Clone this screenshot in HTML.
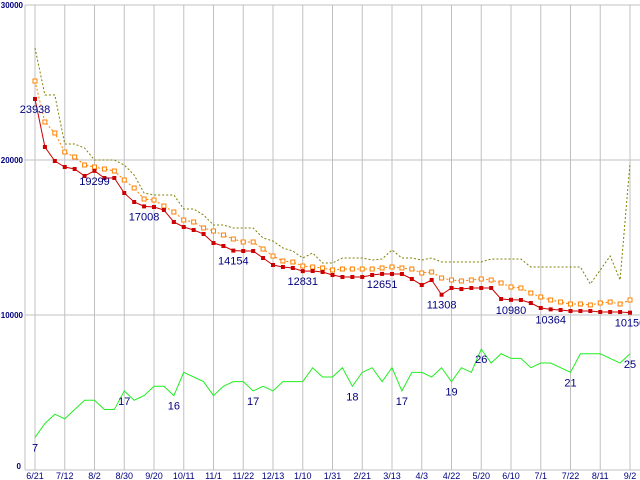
<!DOCTYPE html>
<html><head><meta charset="utf-8"><style>
body{margin:0;background:#fff;width:640px;height:480px;overflow:hidden}
svg{display:block;font-family:"Liberation Sans",sans-serif}
</style></head><body>
<svg id="chart" width="640" height="480" viewBox="0 0 640 480"></svg>
<script>
const xLabels=["6/21","7/12","8/2","8/30","9/20","10/11","11/1","11/22","12/13","1/10","1/31","2/21","3/13","4/3","4/22","5/20","6/10","7/1","7/22","8/11","9/2"];
const yTicks=[0,10000,20000,30000];
const redValues=[23938,20839,19935,19548,19419,18968,19299,18839,18839,17871,17290,17008,16968,16774,16000,15677,15484,15226,14645,14452,14154,14129,14129,13677,13226,13097,13032,12831,12839,12774,12581,12452,12452,12452,12581,12651,12645,12645,12323,11935,12258,11308,11742,11677,11742,11742,11742,11032,10980,10968,10774,10452,10364,10323,10258,10258,10258,10194,10194,10194,10150];
const orangeValues=[25097,22452,21742,20516,20194,19677,19548,19419,19290,18710,18194,17484,17419,17032,16645,16129,16000,15613,15419,15161,14903,14710,14710,14258,13806,13484,13419,13161,13097,13032,12903,12968,12968,12968,12968,13032,13097,13032,12968,12710,12774,12387,12258,12194,12258,12323,12258,12065,11806,11742,11419,11161,10968,10839,10710,10710,10645,10774,10839,10710,10968];
const oliveValues=[27226,24194,24194,21032,21032,20774,20000,20000,20000,19677,19032,17871,17742,17742,17742,16839,16839,16452,15806,15806,15613,15613,15613,14968,14774,14323,14129,13677,14000,13355,13355,13677,13677,13677,13548,13613,14194,13677,13677,13548,13677,13419,13419,13419,13419,13419,13613,13613,13613,13613,13097,13097,13097,13097,13097,13097,12000,12903,13806,12258,19806];
const greenValues=[7,10,12,11,13,15,15,13,13,17,15,16,18,18,16,21,20,19,16,18,19,19,17,18,17,19,19,19,22,20,20,22,18,21,22,19,22,17,21,21,20,22,19,22,21,26,23,25,24,24,22,23,23,22,21,25,25,25,24,23,25];
const redLabelIdx=[0,6,11,20,27,35,41,48,52,60];
const greenLabelIdx=[0,9,14,22,32,37,42,45,54,60];

const svg=document.getElementById('chart');
const NS='http://www.w3.org/2000/svg';
const X0=35,X1=630,Y0=470,YT=5;
const xScale=i=>X0+i*(X1-X0)/(redValues.length-1);
const yScale=v=>Y0-v/30000*(Y0-YT);
const gScale=v=>Y0-v*4.65;
function mk(tag,attrs){const e=document.createElementNS(NS,tag);for(const k in attrs)e.setAttribute(k,attrs[k]);svg.appendChild(e);return e;}

// grid
yTicks.forEach(t=>{
  const l=mk('line',{x1:25,x2:640,y1:yScale(t),y2:yScale(t),stroke:'#c0c0c0','stroke-width':1});
  
  
  const tx=mk('text',{x:t===0?21:23,y:yScale(t)+(t===0?-1:3),'text-anchor':'end','font-size':t===0?8:8,'font-weight':'bold',fill:'#000080'});
  tx.textContent=String(t);
  
  
});
const ax=mk('line',{x1:25,x2:25,y1:5,y2:470,stroke:'#c0c0c0','stroke-width':1});


xLabels.forEach((lab,i)=>{
  const x=X0+i*(X1-X0)/(xLabels.length-1);
  const l=mk('line',{x1:x,x2:x,y1:5,y2:470,stroke:'#c0c0c0','stroke-width':1});
  
  
  const t=mk('text',{x:x,y:479,'text-anchor':'middle','font-size':9,fill:'#000080'});
  t.textContent=lab;
  
  
});

function poly(vals,sc,color,dash,name){
  const p=mk('polyline',{points:vals.map((v,i)=>xScale(i)+','+sc(v)).join(' '),fill:'none',stroke:color,'stroke-width':1});
  if(dash)p.setAttribute('stroke-dasharray',dash);
  
  
}
poly(oliveValues,yScale,'#808000','2,2','olive-series-line');
poly(orangeValues,yScale,'#ff8000','2,2','orange-series-line');
orangeValues.forEach((v,i)=>{
  const r=mk('rect',{x:xScale(i)-2,y:yScale(v)-2,width:4,height:4,fill:'#fff',stroke:'#ff8000','stroke-width':1});
  
  
});
poly(redValues,yScale,'#cc0000',null,'red-series-line');
redValues.forEach((v,i)=>{
  const r=mk('rect',{x:xScale(i)-2,y:yScale(v)-2,width:4,height:4,fill:'#cc0000'});
  
  
});
poly(greenValues,gScale,'#22ee22',null,'green-series-line');

redLabelIdx.forEach(i=>{
  const t=mk('text',{x:xScale(i),y:yScale(redValues[i])+14,'text-anchor':'middle','font-size':11,fill:'#000080'});
  t.textContent=String(redValues[i]);
  
  
});
greenLabelIdx.forEach(i=>{
  const t=mk('text',{x:xScale(i),y:gScale(greenValues[i])+14,'text-anchor':'middle','font-size':11,fill:'#000080'});
  t.textContent=String(greenValues[i]);
  
  
});
</script>
</body></html>
